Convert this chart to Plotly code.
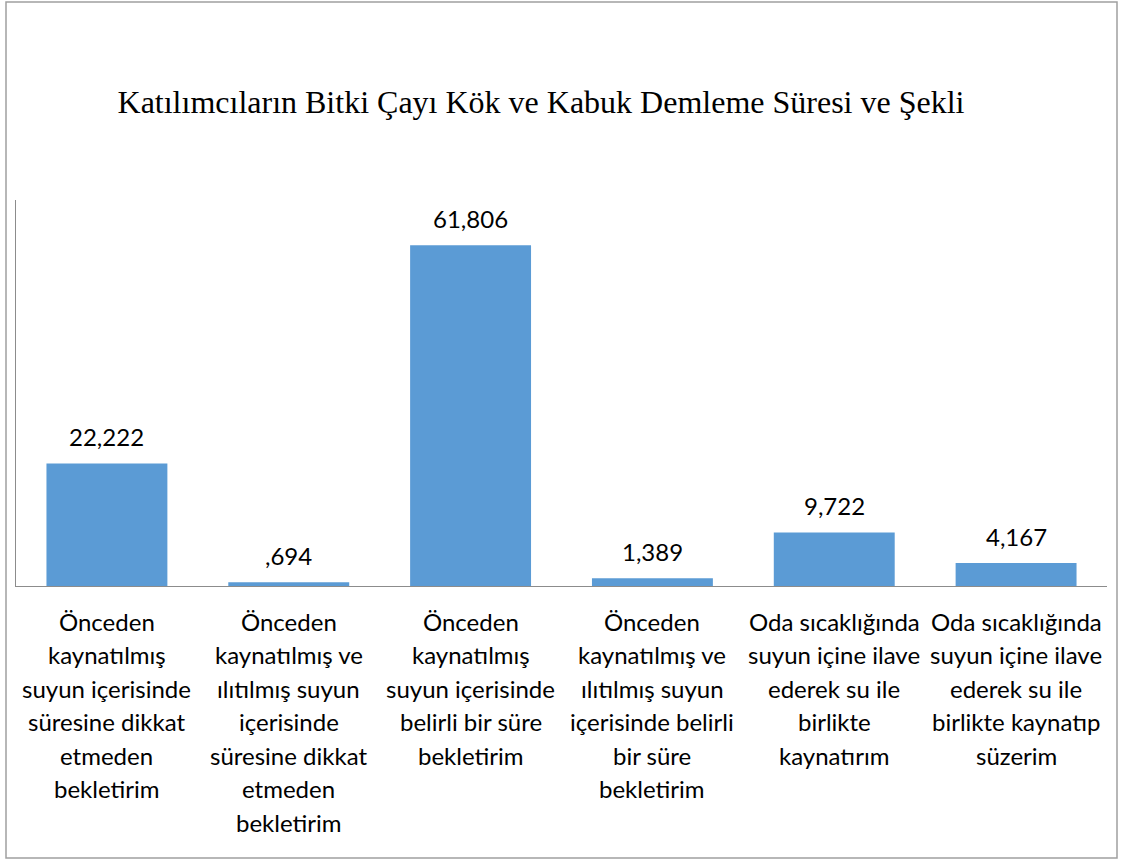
import plotly.graph_objects as go

# kategori etiketleri (satır satır) ve yüzde değerleri
categories = [
    ["Önceden", "kaynatılmış", "suyun içerisinde", "süresine dikkat", "etmeden", "bekletirim"],
    ["Önceden", "kaynatılmış ve", "ılıtılmış suyun", "içerisinde", "süresine dikkat", "etmeden", "bekletirim"],
    ["Önceden", "kaynatılmış", "suyun içerisinde", "belirli bir süre", "bekletirim"],
    ["Önceden", "kaynatılmış ve", "ılıtılmış suyun", "içerisinde belirli", "bir süre", "bekletirim"],
    ["Oda sıcaklığında", "suyun içine ilave", "ederek su ile", "birlikte", "kaynatırım"],
    ["Oda sıcaklığında", "suyun içine ilave", "ederek su ile", "birlikte kaynatıp", "süzerim"],
]
values = [22.222, 0.694, 61.806, 1.389, 9.722, 4.167]
title_text = "Katılımcıların Bitki Çayı Kök ve Kabuk Demleme Süresi ve Şekli"

W, H = 1121, 863
L, R, T, B = 16, 14, 200, 277
BAR_COLOR = "#5B9BD5"
LABEL_FONT = dict(family="Lato", size=24, color="#000000")


def fmt(v):
    s = f"{v:.3f}".replace(".", ",")
    return s[1:] if s.startswith("0,") else s


x_keys = [" ".join(c) for c in categories]

fig = go.Figure(
    go.Bar(
        x=x_keys,
        y=values,
        marker=dict(color=BAR_COLOR, line=dict(width=0)),
        hoverinfo="skip",
    )
)

annotations = []
# değer etiketleri
for key, v in zip(x_keys, values):
    annotations.append(dict(
        x=key, y=v, xref="x", yref="y", text=fmt(v), showarrow=False,
        yanchor="bottom", yshift=10, font=LABEL_FONT,
    ))
# kategori etiketleri (Excel gibi geniş satır aralığı)
for key, lines in zip(x_keys, categories):
    for i, line in enumerate(lines):
        annotations.append(dict(
            x=key, y=0, xref="x", yref="y", text=line, showarrow=False,
            yanchor="middle", yshift=-(35 + 33.5 * i), font=LABEL_FONT,
        ))

pw = W - L - R
ph = H - T - B
fig.update_layout(
    width=W,
    height=H,
    margin=dict(l=L, r=R, t=T, b=B),
    paper_bgcolor="white",
    plot_bgcolor="white",
    showlegend=False,
    bargap=0.335,
    title=dict(
        text=title_text,
        x=541 / W,
        xanchor="center",
        y=1 - 102 / H,
        yanchor="middle",
        font=dict(family="Liberation Serif", size=32, color="#000000"),
    ),
    xaxis=dict(
        showticklabels=False, ticks="", showgrid=False,
        showline=True, linecolor="#8C8C8C", linewidth=1,
    ),
    yaxis=dict(
        range=[0, 70], showticklabels=False, ticks="", showgrid=False,
        zeroline=False, showline=True, linecolor="#8C8C8C", linewidth=1,
    ),
    annotations=annotations,
    shapes=[dict(
        type="rect", xref="paper", yref="paper",
        x0=(6 - L) / pw, x1=(1117 - L) / pw,
        y0=(T + ph - 858) / ph, y1=(T + ph - 2) / ph,
        line=dict(color="#A0A0A0", width=1.5),
    )],
)

fig.write_html(
    "out.html",
    config={"displayModeBar": False},
    post_script="document.body.style.margin='0';",
)
